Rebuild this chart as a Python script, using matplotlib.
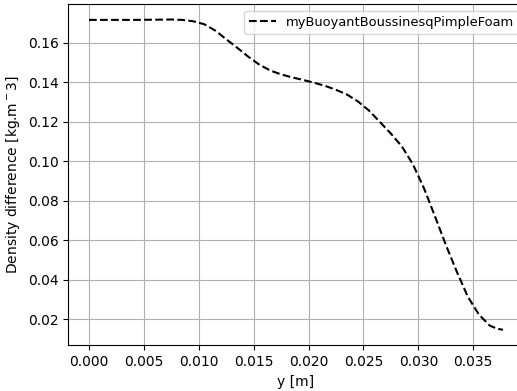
import matplotlib
matplotlib.use('Agg')
import matplotlib.pyplot as plt

# centreline profile: position y [m] vs density difference
y_pos = [0.0000, 0.0020, 0.0040, 0.0060, 0.0075, 0.0085, 0.0095, 0.0105,
         0.0115, 0.0125, 0.0135, 0.0145, 0.0155, 0.0165, 0.0175, 0.0185,
         0.0195, 0.0205, 0.0215, 0.0225, 0.0235, 0.0245, 0.0255, 0.0265,
         0.0275, 0.0285, 0.0295, 0.0305, 0.0315, 0.0325, 0.0335, 0.0345,
         0.0355, 0.0365, 0.0372, 0.0377]
drho = [0.1716, 0.1716, 0.1716, 0.1717, 0.1718, 0.1716, 0.1709, 0.1694,
        0.1662, 0.1618, 0.1575, 0.1530, 0.1490, 0.1460, 0.1440, 0.1425,
        0.1412, 0.1398, 0.1382, 0.1362, 0.1338, 0.1303, 0.1257, 0.1199,
        0.1140, 0.1075, 0.0985, 0.0865, 0.0723, 0.0577, 0.0441, 0.0315,
        0.0225, 0.0168, 0.0152, 0.0147]

fig = plt.figure(figsize=(5.17, 3.91), dpi=100)
ax = fig.add_axes([0.1321, 0.1169, 0.8807, 0.8729])
ax.plot(y_pos, drho, 'k--', lw=1.5, label='myBuoyantBoussinesqPimpleFoam')
ax.set_xlabel('y [m]')
ax.set_ylabel('Density difference [kg.m$^-3$]')
ax.grid(True)
ax.legend(loc='upper left', bbox_to_anchor=(0.372, 1.0), fontsize=9.4)
fig.savefig('out.png', dpi=100)
